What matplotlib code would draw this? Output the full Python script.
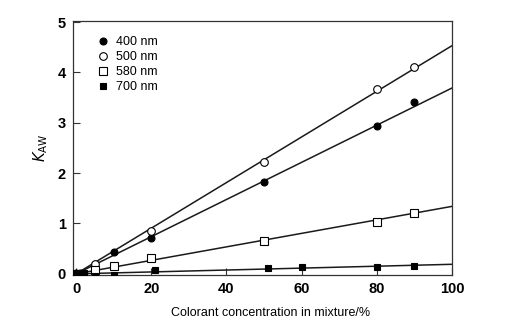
import matplotlib
matplotlib.use("Agg")
import matplotlib.pyplot as plt
import numpy as np

plt.rcParams['font.family'] = ['Liberation Sans', 'DejaVu Sans']

# Data
x400 = [0, 1, 10, 20, 50, 80, 90]
y400 = [0.02, 0.02, 0.43, 0.72, 1.83, 2.93, 3.42]
fit400 = [0.0, 3.69]

x500 = [5, 20, 50, 80, 90]
y500 = [0.2, 0.85, 2.22, 3.67, 4.1]
fit500 = [0.0, 4.53]

x580 = [5, 10, 20, 50, 80, 90]
y580 = [0.08, 0.15, 0.31, 0.65, 1.03, 1.21]
fit580 = [0.0, 1.34]

x700 = [0, 2, 5, 10, 21, 51, 60, 80, 90]
y700 = [0.02, 0.02, -0.04, -0.02, 0.08, 0.12, 0.13, 0.13, 0.15]
fit700 = [0.0, 0.19]

fit_x = [0, 100]
labels = ['400 nm', '500 nm', '580 nm', '700 nm']
xticks = [0, 20, 40, 60, 80, 100]
yticks = [0, 1, 2, 3, 4, 5]

fig = plt.figure(figsize=(5.06, 3.23), dpi=100)
ax = fig.add_axes([0.1443, 0.149, 0.749, 0.786])

lc = '#1a1a1a'
for fy in (fit400, fit500, fit580, fit700):
    ax.plot(fit_x, fy, color=lc, lw=1.1, zorder=2)

ms = 5
h1, = ax.plot(x400, y400, 'o', ms=ms, mfc='black', mec='black', mew=0.8, label=labels[0], zorder=3)
h2, = ax.plot(x500, y500, 'o', ms=ms + 0.5, mfc='white', mec='black', mew=0.8, label=labels[1], zorder=3)
h3, = ax.plot(x580, y580, 's', ms=ms + 0.5, mfc='white', mec='black', mew=0.8, label=labels[2], zorder=3)
h4, = ax.plot(x700, y700, 's', ms=ms, mfc='black', mec='black', mew=0.8, label=labels[3], zorder=3)

ax.set_xlim(-0.8, 100)
ax.set_ylim(-0.02, 5.02)
ax.set_xticks(xticks)
ax.set_yticks(yticks)
ax.tick_params(direction='in', length=5, width=0.8, color='#333333', labelsize=10.5, pad=5)
for lab in ax.get_xticklabels() + ax.get_yticklabels():
    lab.set_fontweight('bold')
for s in ax.spines.values():
    s.set_color('#333333')
    s.set_linewidth(0.9)

ax.set_xlabel('Colorant concentration in mixture/%', fontsize=9)
ax.xaxis.set_label_coords(0.52, -0.125)
ax.set_ylabel(r'$K_{\mathrm{AW}}$', fontsize=10.5)
ax.yaxis.set_label_coords(-0.06, 0.5)

leg = ax.legend(handles=[h1, h2, h3, h4], loc='upper left', bbox_to_anchor=(0.045, 0.97),
                frameon=False, fontsize=9, handlelength=0.8, handletextpad=0.65,
                labelspacing=0.25, borderaxespad=0.2, numpoints=1)

fig.savefig('out.png', dpi=100)
